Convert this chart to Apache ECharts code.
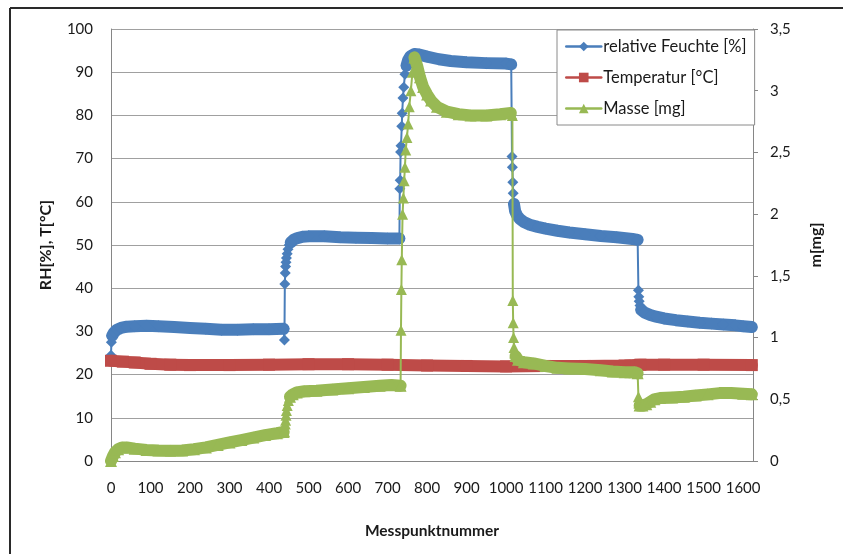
<!DOCTYPE html>
<html>
<head>
<meta charset="utf-8">
<script src="https://cdn.jsdelivr.net/npm/echarts@6/dist/echarts.min.js"></script>
<style>
html,body{margin:0;padding:0;background:#fff;}
#chart{width:843px;height:554px;}
</style>
</head>
<body>
<div id="chart"></div>
<script>
// ---- Data ----
const xTicks = [0,100,200,300,400,500,600,700,800,900,1000,1100,1200,1300,1400,1500,1600];
const seriesNames = ['relative Feuchte [%]', 'Temperatur [°C]', 'Masse [mg]'];

// relative humidity [%] : [Messpunkt, RH]
const rhStep0 = [[0,24.5],[1,27.5],[3,29]];
const rhBand1 = [[3,29],[8,29.8],[15,30.4],[25,30.8],[40,31.1],[60,31.2],[90,31.3],[120,31.2],[160,31],[200,30.8],[240,30.6],[280,30.4],[320,30.4],[360,30.5],[400,30.5],[437,30.6]];
const rhStep1 = [[437,30.6],[439,28],[440,41],[441,43.5],[442,45],[443,46],[444,47],[446,48],[448,49],[451,50],[455,50.6]];
const rhBand2 = [[455,50.6],[462,51.2],[472,51.6],[485,51.9],[500,52],[540,52],[580,51.8],[620,51.7],[660,51.6],[700,51.5],[730,51.5]];
const rhStep2 = [[730,51.5],[731,63],[732,65],[733,71.5],[734,73],[736,77.5],[737,80.5],[739,84],[741,86.5],[744,89.5],[748,91.5]];
const rhBand3 = [[748,91.5],[752,92.8],[758,93.7],[768,94.2],[780,94.1],[800,93.6],[830,93],[860,92.6],[900,92.3],[950,92.1],[1000,92],[1013,91.8]];
const rhStep3 = [[1013,91.8],[1015,70.5],[1016,68],[1017,64.5],[1018,62],[1020,59.5]];
const rhBand4 = [[1020,59.5],[1023,57.8],[1028,56.8],[1035,56],[1045,55.3],[1060,54.7],[1080,54.2],[1100,53.8],[1130,53.3],[1160,52.9],[1200,52.5],[1240,52.1],[1280,51.8],[1320,51.4],[1333,51.2]];
const rhStep4 = [[1333,51.2],[1335,39.5],[1336,38],[1337,37],[1339,36],[1342,35]];
const rhBand5 = [[1342,35],[1350,34.4],[1365,33.8],[1380,33.4],[1400,33],[1430,32.6],[1460,32.3],[1490,32],[1520,31.8],[1550,31.6],[1580,31.4],[1600,31.2],[1622,31]];

// temperature [°C]
const tempBand = [[0,23.2],[30,23],[60,22.8],[100,22.5],[150,22.3],[200,22.2],[300,22.2],[400,22.3],[500,22.4],[600,22.4],[700,22.3],[800,22.1],[900,22],[1000,21.9],[1100,22],[1200,22],[1300,22.1],[1340,22.3],[1400,22.3],[1500,22.3],[1622,22.2]];

// mass [mg]
const mBand1 = [[0,0],[5,0.04],[10,0.07],[18,0.095],[28,0.11],[40,0.11],[60,0.1],[90,0.09],[120,0.085],[150,0.083],[180,0.085],[210,0.095],[240,0.11],[270,0.13],[300,0.15],[330,0.17],[360,0.19],[390,0.21],[420,0.225],[437,0.235]];
const mStep1 = [[437,0.235],[439,0.24],[441,0.3],[442,0.33],[443,0.37],[444,0.41],[446,0.45],[449,0.49],[453,0.52]];
const mBand2 = [[453,0.52],[460,0.54],[470,0.555],[490,0.565],[520,0.57],[560,0.58],[600,0.59],[640,0.6],[680,0.61],[710,0.615],[733,0.61]];
const mStep2 = [[733,0.61],[734,1.06],[735,1.39],[736,1.63],[738,2.0],[740,2.13],[742,2.27],[744,2.38],[746,2.52],[749,2.62],[752,2.73],[755,2.87],[759,3.0],[763,3.15],[768,3.27]];
const mBand3 = [[768,3.27],[775,3.2],[782,3.11],[790,3.03],[800,2.97],[810,2.92],[825,2.87],[850,2.83],[880,2.81],[910,2.8],[950,2.8],[985,2.81],[1012,2.82]];
const mStep3 = [[1012,2.82],[1016,2.8],[1017,1.3],[1018,1.12],[1019,1.0],[1020,0.92],[1022,0.875],[1024,0.85]];
const mBand4 = [[1024,0.85],[1030,0.82],[1045,0.8],[1070,0.79],[1100,0.77],[1130,0.755],[1160,0.75],[1200,0.745],[1240,0.735],[1270,0.725],[1300,0.72],[1325,0.72],[1333,0.71]];
const mStep4 = [[1333,0.71],[1335,0.52],[1336,0.47],[1338,0.45]];
const mBand5 = [[1338,0.45],[1345,0.45],[1355,0.46],[1365,0.48],[1375,0.5],[1390,0.51],[1420,0.515],[1450,0.52],[1480,0.53],[1510,0.54],[1540,0.55],[1570,0.55],[1600,0.545],[1622,0.54]];

// ---- Styling ----
const BLUE = '#4a7ebb', RED = '#be4b48', GREEN = '#98b954';
const FONT = 'Lato';

function seg(name, data, color, symbol, kind, axis, z) {
  const band = kind === 'band';
  return {
    name: name, type: 'line', data: data, yAxisIndex: axis, z: z,
    symbol: symbol, symbolSize: band ? 12 : 11, showSymbol: true,
    itemStyle: {color: color},
    lineStyle: {color: color, width: band ? 12 : 2, cap: 'round', join: 'round'},
    animation: false, silent: true
  };
}

const series = [
  seg(seriesNames[0], rhStep0, BLUE, 'diamond', 'step', 0, 2),
  seg(seriesNames[0], rhBand1, BLUE, 'diamond', 'band', 0, 2),
  seg(seriesNames[0], rhStep1, BLUE, 'diamond', 'step', 0, 2),
  seg(seriesNames[0], rhBand2, BLUE, 'diamond', 'band', 0, 2),
  seg(seriesNames[0], rhStep2, BLUE, 'diamond', 'step', 0, 2),
  seg(seriesNames[0], rhBand3, BLUE, 'diamond', 'band', 0, 2),
  seg(seriesNames[0], rhStep3, BLUE, 'diamond', 'step', 0, 2),
  seg(seriesNames[0], rhBand4, BLUE, 'diamond', 'band', 0, 2),
  seg(seriesNames[0], rhStep4, BLUE, 'diamond', 'step', 0, 2),
  seg(seriesNames[0], rhBand5, BLUE, 'diamond', 'band', 0, 2),
  seg(seriesNames[1], tempBand, RED, 'rect', 'band', 0, 3),
  seg(seriesNames[2], mBand1, GREEN, 'triangle', 'band', 1, 4),
  seg(seriesNames[2], mStep1, GREEN, 'triangle', 'step', 1, 4),
  seg(seriesNames[2], mBand2, GREEN, 'triangle', 'band', 1, 4),
  seg(seriesNames[2], mStep2, GREEN, 'triangle', 'step', 1, 4),
  seg(seriesNames[2], mBand3, GREEN, 'triangle', 'band', 1, 4),
  seg(seriesNames[2], mStep3, GREEN, 'triangle', 'step', 1, 4),
  seg(seriesNames[2], mBand4, GREEN, 'triangle', 'band', 1, 4),
  seg(seriesNames[2], mStep4, GREEN, 'triangle', 'step', 1, 4),
  seg(seriesNames[2], mBand5, GREEN, 'triangle', 'band', 1, 4)
];

const chart = echarts.init(document.getElementById('chart'), null, {renderer: 'canvas'});
chart.setOption({
  backgroundColor: '#ffffff',
  animation: false,
  textStyle: {fontFamily: FONT},
  graphic: [
    {type: 'line', shape: {x1: 10, y1: 8, x2: 10, y2: 554}, style: {stroke: '#2a2a2a', lineWidth: 2}},
    {type: 'line', shape: {x1: 10, y1: 8, x2: 843, y2: 8}, style: {stroke: '#2a2a2a', lineWidth: 2}}
  ],
  grid: {left: 111, right: 90, top: 29, bottom: 93, containLabel: false},
  legend: {
    data: seriesNames,
    orient: 'vertical',
    left: 557, top: 30,
    padding: [8, 8, 8, 8],
    itemWidth: 35, itemHeight: 12, itemGap: 14,
    backgroundColor: '#ffffff',
    borderColor: '#8a8a8a', borderWidth: 1,
    lineStyle: {width: 2.5},
    textStyle: {fontFamily: FONT, fontSize: 16.5, color: '#1a1a1a', padding: [0,0,0,-3]},
    z: 10
  },
  xAxis: {
    type: 'value', min: 0, max: 1625, interval: 100,
    name: 'Messpunktnummer', nameLocation: 'middle', nameGap: 62,
    nameTextStyle: {fontFamily: FONT, fontSize: 15.5, fontWeight: 'bold', color: '#1a1a1a'},
    axisLine: {show: true, lineStyle: {color: '#868686', width: 1}},
    axisTick: {show: false},
    splitLine: {show: false},
    axisLabel: {
      margin: 20, fontSize: 15, color: '#1a1a1a', fontFamily: FONT,
      showMaxLabel: false,
      formatter: function (v) { return xTicks.indexOf(v) >= 0 ? String(v) : ''; }
    }
  },
  yAxis: [
    {
      type: 'value', min: 0, max: 100, interval: 10,
      name: 'RH[%], T[°C]', nameLocation: 'middle', nameGap: 57, nameRotate: 90,
      nameTextStyle: {fontFamily: FONT, fontSize: 16, fontWeight: 'bold', color: '#1a1a1a'},
      axisLine: {show: true, lineStyle: {color: '#868686', width: 1}},
      axisTick: {show: false},
      splitLine: {show: true, lineStyle: {color: '#a0a0a0', width: 1}},
      axisLabel: {margin: 18, fontSize: 15, color: '#1a1a1a', fontFamily: FONT}
    },
    {
      type: 'value', min: 0, max: 3.5, interval: 0.5, position: 'right',
      name: 'm[mg]', nameLocation: 'middle', nameGap: 55, nameRotate: 90,
      nameTextStyle: {fontFamily: FONT, fontSize: 16, fontWeight: 'bold', color: '#1a1a1a'},
      axisLine: {show: true, lineStyle: {color: '#868686', width: 1}},
      axisTick: {show: true, length: 5, inside: false, lineStyle: {color: '#868686'}},
      splitLine: {show: false},
      axisLabel: {margin: 17, fontSize: 15, color: '#1a1a1a', fontFamily: FONT,
        formatter: function (v) { return String(v).replace('.', ','); }}
    }
  ],
  series: series
});
</script>
</body>
</html>
